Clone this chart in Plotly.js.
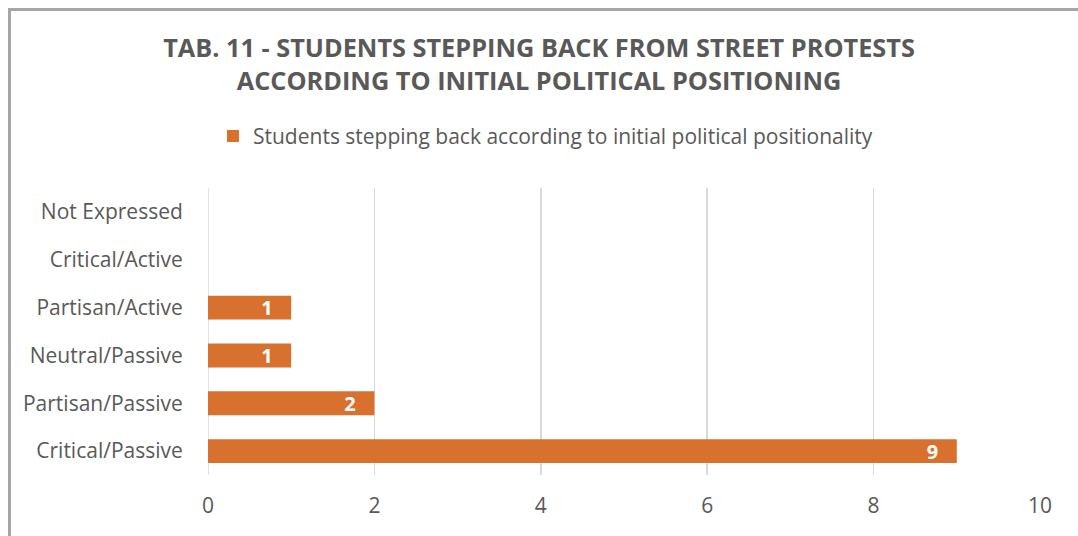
<!DOCTYPE html>
<html>
<head>
<meta charset="utf-8">
<script src="https://cdn.plot.ly/plotly-3.0.1.min.js"></script>
<style>
html,body{margin:0;padding:0;background:#fff;overflow:hidden;}
#chart{position:absolute;left:0;top:0;width:1078px;height:536px;}
#frame{position:absolute;left:8px;top:8px;width:1200px;height:700px;border:3px solid #a6a6a6;box-sizing:border-box;pointer-events:none;}
</style>
</head>
<body>
<div id="chart"></div>
<div id="frame"></div>
<script>
const categories = ["Critical/Passive","Partisan/Passive","Neutral/Passive","Partisan/Active","Critical/Active","Not Expressed"];
const values = [9, 2, 1, 1, 0, 0];
const seriesName = "Students stepping back according to initial political positionality";
const xTicks = [0, 2, 4, 6, 8, 10];
const titleText = "TAB. 11 - STUDENTS STEPPING BACK FROM STREET PROTESTS<br>ACCORDING TO INITIAL POLITICAL POSITIONING";

const FONT = "'Open Sans', sans-serif";
const GREY = "#595959";
const PAD = "\u00a0\u00a0\u00a0";

const trace = {
  type: "bar",
  orientation: "h",
  y: categories,
  x: values,
  name: seriesName,
  marker: {color: "#D9712E"},
  text: values.map(v => v > 0 ? String(v) + PAD : ""),
  textposition: "inside",
  insidetextanchor: "end",
  textangle: 0,
  constraintext: "none",
  textfont: {family: FONT, size: 20, color: "#ffffff", weight: "bold"},
  cliponaxis: false,
  hoverinfo: "skip"
};

const layout = {
  width: 1078,
  height: 536,
  margin: {l: 208, r: 38, t: 188, b: 61, pad: 0},
  paper_bgcolor: "#ffffff",
  plot_bgcolor: "#ffffff",
  font: {family: FONT, color: GREY, size: 21},
  title: {
    text: titleText,
    font: {family: FONT, size: 25.3, color: GREY, weight: "bold"},
    x: 0.5, xanchor: "center",
    y: 0.893, yanchor: "middle"
  },
  showlegend: true,
  legend: {
    orientation: "h",
    x: 0.006, xanchor: "left",
    y: 1.18, yanchor: "middle",
    font: {family: FONT, size: 21, color: GREY},
    itemwidth: 30
  },
  bargap: 0.5,
  xaxis: {
    range: [0, 10],
    tickvals: xTicks,
    ticktext: xTicks.map(String),
    showgrid: true,
    gridcolor: "#d9d9d9",
    gridwidth: 1.5,
    zeroline: false,
    showline: false,
    ticks: "outside",
    ticklen: 12,
    tickcolor: "rgba(0,0,0,0)",
    tickfont: {family: FONT, size: 21, color: GREY},
    fixedrange: true
  },
  yaxis: {
    type: "category",
    categoryorder: "array",
    categoryarray: categories,
    showgrid: false,
    zeroline: false,
    showline: false,
    ticks: "outside",
    ticklen: 20,
    tickcolor: "rgba(0,0,0,0)",
    tickfont: {family: FONT, size: 21, color: GREY},
    fixedrange: true
  },
  shapes: [{
    type: "line", xref: "x", yref: "paper",
    x0: 0, x1: 0, y0: 0, y1: 1,
    line: {color: "#d9d9d9", width: 1.5},
    layer: "below"
  }]
};

Plotly.newPlot("chart", [trace], layout, {displayModeBar: false, staticPlot: true});
</script>
</body>
</html>
